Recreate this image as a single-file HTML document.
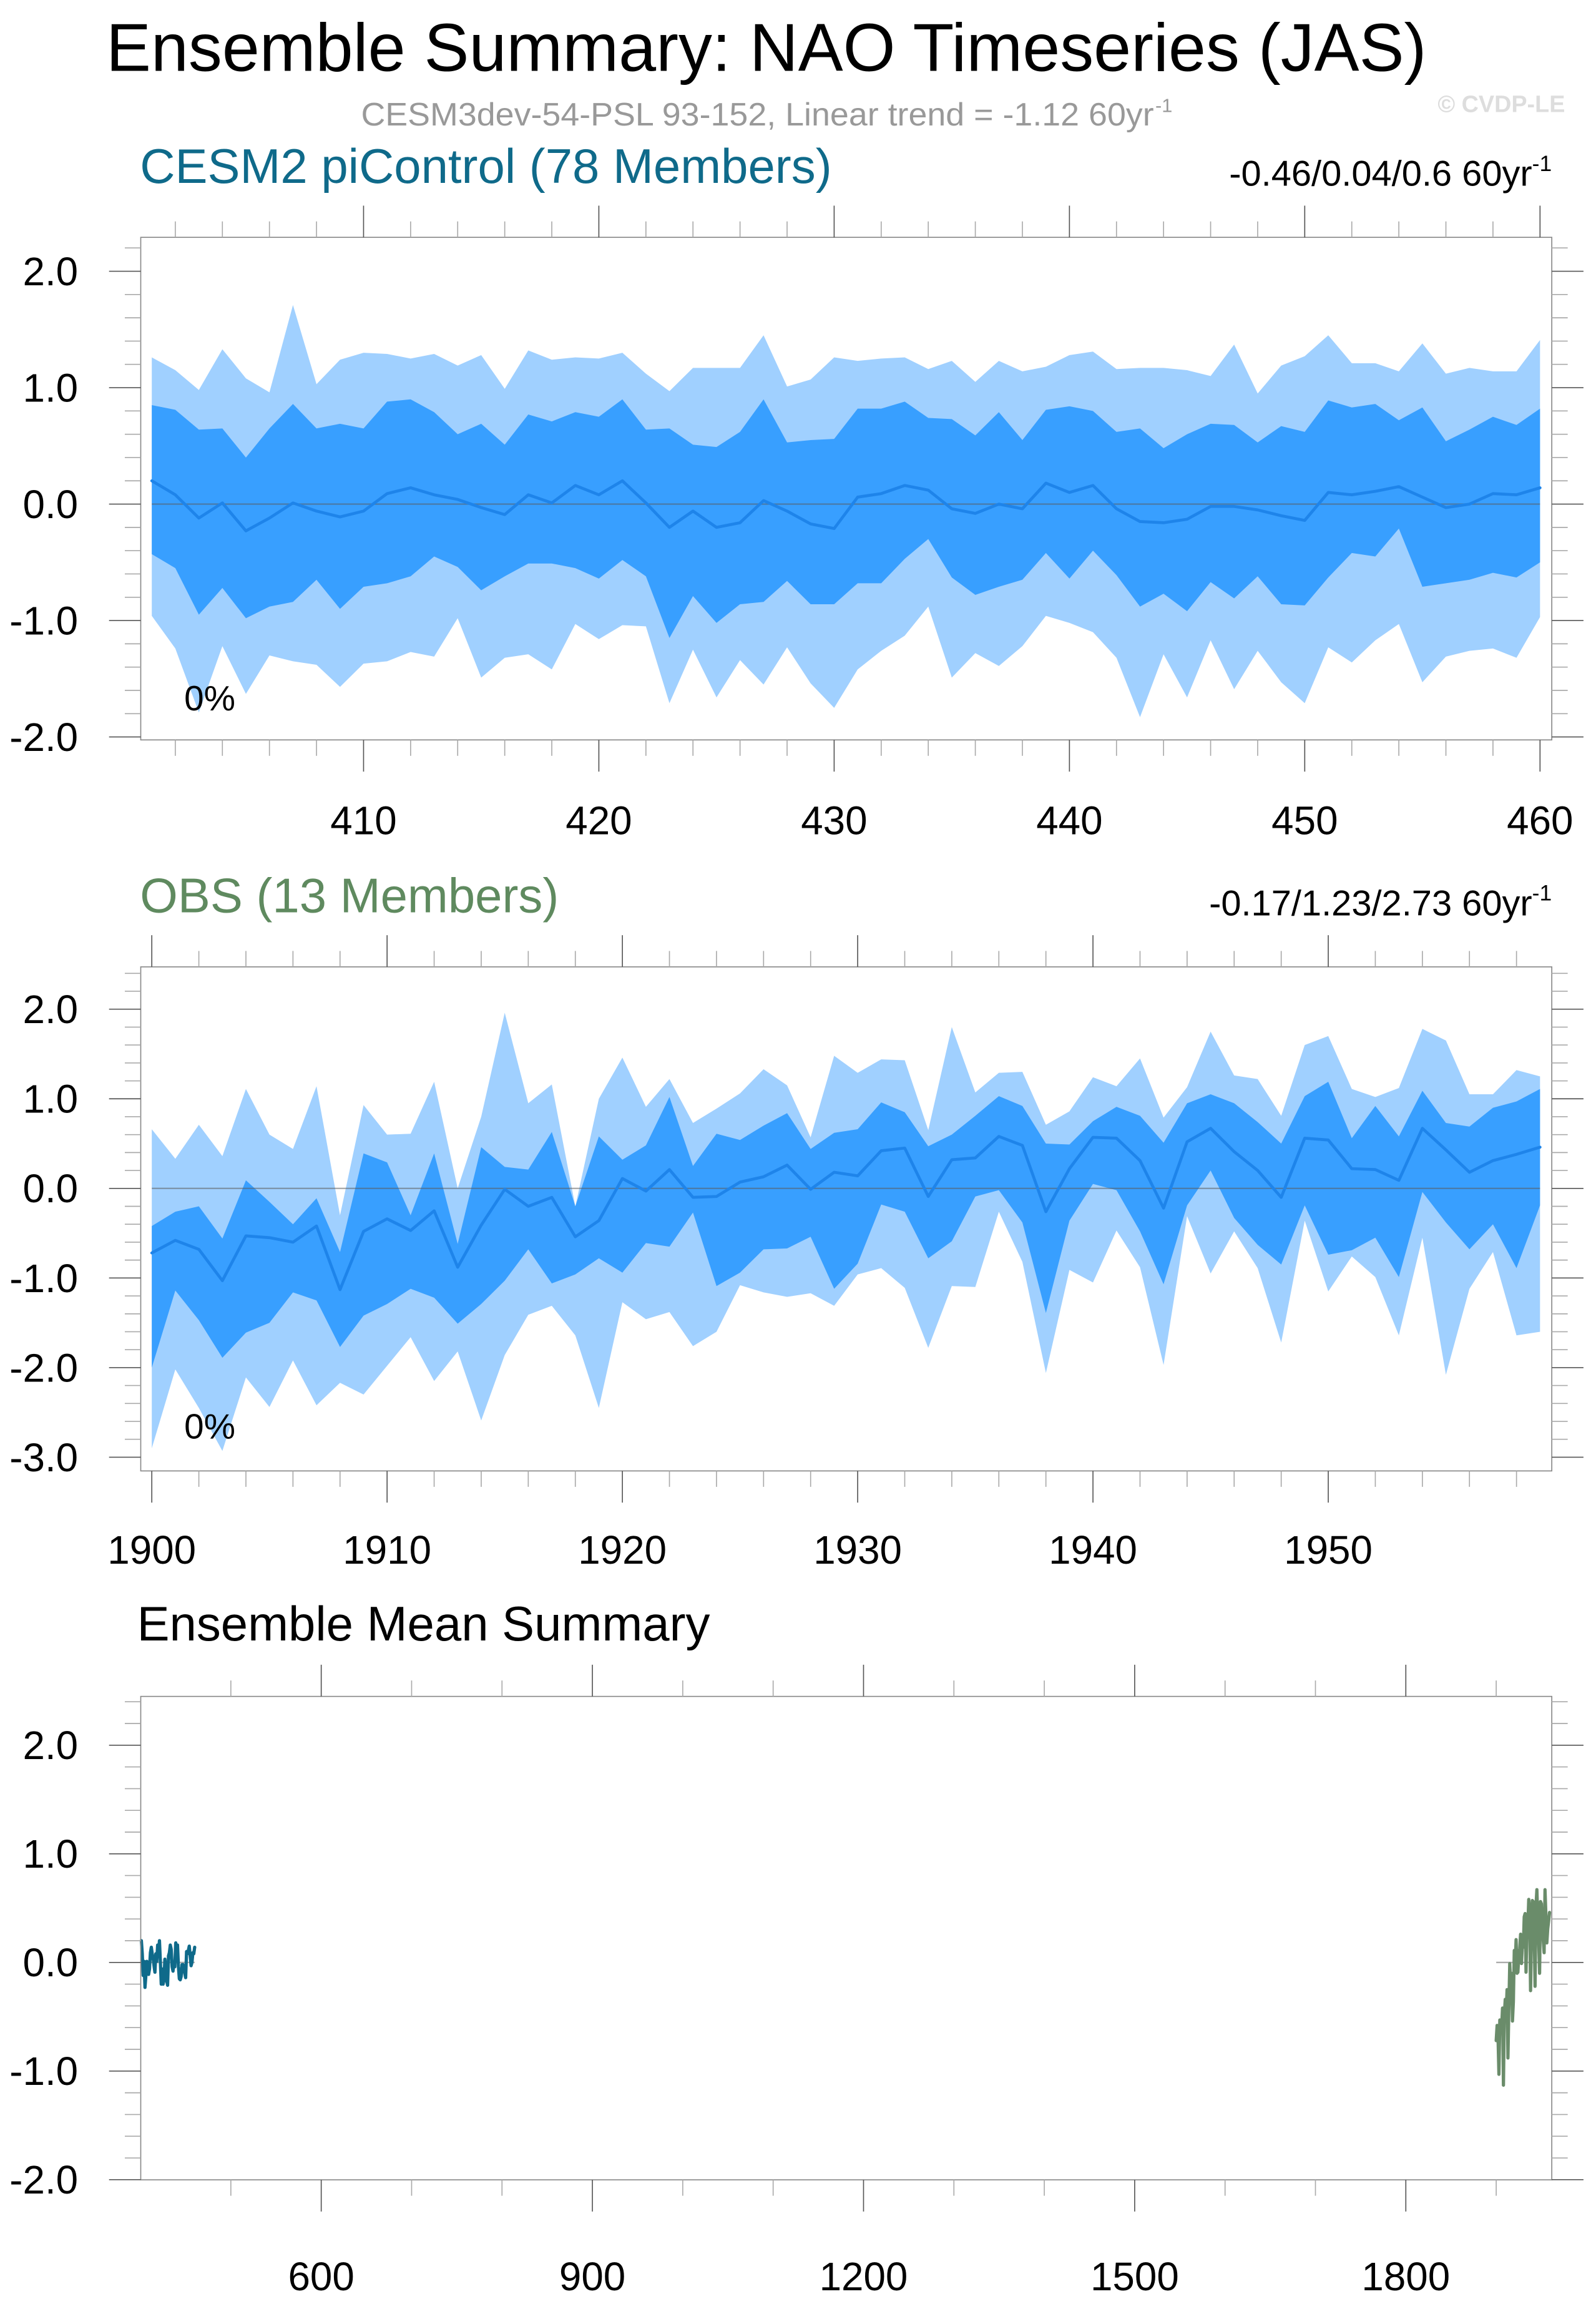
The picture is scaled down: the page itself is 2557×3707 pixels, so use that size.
<!DOCTYPE html>
<html><head><meta charset="utf-8"><style>
html,body{margin:0;padding:0;background:#fff;}
svg{display:block;font-family:"Liberation Sans",Arial,sans-serif;}
</style></head><body>
<svg id="chart" xmlns="http://www.w3.org/2000/svg" width="2557" height="3707" viewBox="0 0 1083 1570">
<rect x="0" y="0" width="1083" height="1570" fill="#fff"/>
<text x="72" y="48" font-size="46" textLength="896" lengthAdjust="spacingAndGlyphs" fill="#000">Ensemble Summary: NAO Timeseries (JAS)</text>
<text x="245" y="85" font-size="22" textLength="538" lengthAdjust="spacingAndGlyphs" fill="#999">CESM3dev-54-PSL 93-152, Linear trend = -1.12 60yr</text>
<text x="784" y="76" font-size="13" fill="#999">-1</text>
<text x="1062" y="76" font-size="16" font-weight="bold" text-anchor="end" fill="#ddd">© CVDP-LE</text>
<text x="95" y="124" font-size="33" fill="#0f6a8a">CESM2 piControl (78 Members)</text>
<text x="1053" y="126" font-size="24.5" text-anchor="end" fill="#000">-0.46/0.04/0.6 60yr<tspan font-size="15" dy="-10">-1</tspan></text>
<text x="95" y="619" font-size="33" fill="#5f8a5f">OBS (13 Members)</text>
<text x="1053" y="621" font-size="24.5" text-anchor="end" fill="#000">-0.17/1.23/2.73 60yr<tspan font-size="15" dy="-10">-1</tspan></text>
<text x="93" y="1113" font-size="33" fill="#000">Ensemble Mean Summary</text>
<g id="layer"></g>
</svg>
<script>
// Panel 1: CESM2 piControl, years 401..460
const cesmYears = [];
for (let y = 401; y <= 460; y++) cesmYears.push(y);
const cesmMax = [1.26,1.15,0.98,1.33,1.08,0.96,1.71,1.03,1.24,1.30,1.29,1.25,1.29,1.19,1.28,0.99,1.32,1.24,1.26,1.25,1.30,1.12,0.97,1.17,1.17,1.17,1.45,1.01,1.07,1.26,1.23,1.25,1.26,1.16,1.23,1.05,1.23,1.14,1.18,1.28,1.31,1.16,1.17,1.17,1.15,1.10,1.37,0.95,1.19,1.27,1.45,1.21,1.21,1.14,1.38,1.12,1.17,1.14,1.14,1.41];
const cesmP90 = [0.85,0.81,0.64,0.65,0.40,0.65,0.86,0.65,0.69,0.65,0.88,0.90,0.79,0.60,0.69,0.51,0.77,0.71,0.79,0.75,0.90,0.64,0.65,0.51,0.49,0.62,0.90,0.53,0.55,0.56,0.82,0.82,0.88,0.74,0.73,0.59,0.79,0.55,0.81,0.84,0.80,0.62,0.65,0.48,0.60,0.69,0.68,0.53,0.67,0.62,0.89,0.83,0.86,0.72,0.83,0.54,0.64,0.75,0.68,0.82];
const cesmMean = [0.20,0.08,-0.12,0.01,-0.23,-0.12,0.01,-0.06,-0.11,-0.06,0.09,0.14,0.08,0.04,-0.03,-0.09,0.08,0.01,0.16,0.08,0.20,0.01,-0.20,-0.06,-0.20,-0.16,0.03,-0.06,-0.17,-0.21,0.06,0.09,0.16,0.12,-0.04,-0.08,0.00,-0.04,0.18,0.10,0.16,-0.04,-0.15,-0.16,-0.13,-0.02,-0.02,-0.05,-0.10,-0.14,0.10,0.08,0.11,0.15,0.06,-0.03,0.00,0.09,0.08,0.14];
const cesmP10 = [-0.43,-0.55,-0.95,-0.72,-0.98,-0.88,-0.84,-0.65,-0.90,-0.71,-0.68,-0.62,-0.45,-0.54,-0.74,-0.62,-0.51,-0.51,-0.55,-0.64,-0.48,-0.62,-1.15,-0.79,-1.02,-0.86,-0.84,-0.66,-0.86,-0.86,-0.68,-0.68,-0.47,-0.30,-0.63,-0.78,-0.71,-0.65,-0.42,-0.64,-0.40,-0.61,-0.88,-0.77,-0.92,-0.67,-0.81,-0.62,-0.86,-0.87,-0.63,-0.42,-0.45,-0.21,-0.71,-0.68,-0.65,-0.59,-0.63,-0.50];
const cesmMin = [-0.96,-1.24,-1.79,-1.22,-1.63,-1.30,-1.35,-1.38,-1.57,-1.37,-1.35,-1.27,-1.31,-0.98,-1.49,-1.32,-1.29,-1.42,-1.03,-1.16,-1.04,-1.05,-1.71,-1.25,-1.66,-1.34,-1.55,-1.23,-1.54,-1.75,-1.42,-1.26,-1.13,-0.88,-1.49,-1.28,-1.39,-1.22,-0.96,-1.02,-1.10,-1.32,-1.83,-1.29,-1.66,-1.17,-1.59,-1.26,-1.53,-1.71,-1.23,-1.36,-1.17,-1.03,-1.53,-1.31,-1.26,-1.24,-1.32,-0.97];

// Panel 2: OBS, years 1900..1959
const obsYears = [];
for (let y = 1900; y <= 1959; y++) obsYears.push(y);
const obsMax = [0.66,0.33,0.71,0.36,1.11,0.60,0.44,1.14,-0.30,0.93,0.60,0.61,1.19,0.00,0.80,1.96,0.95,1.16,-0.20,1.00,1.46,0.91,1.22,0.73,0.89,1.06,1.33,1.15,0.57,1.48,1.29,1.44,1.43,0.65,1.80,1.07,1.29,1.30,0.71,0.86,1.24,1.14,1.45,0.79,1.13,1.75,1.26,1.22,0.81,1.60,1.70,1.11,1.02,1.12,1.78,1.65,1.05,1.05,1.32,1.25];
const obsP90 = [-0.42,-0.26,-0.20,-0.56,0.09,-0.15,-0.40,-0.11,-0.71,0.39,0.29,-0.30,0.39,-0.62,0.46,0.24,0.21,0.63,-0.20,0.58,0.32,0.48,1.02,0.25,0.61,0.54,0.70,0.84,0.44,0.62,0.66,0.96,0.85,0.47,0.60,0.81,1.03,0.92,0.50,0.49,0.75,0.91,0.81,0.51,0.95,1.05,0.95,0.74,0.50,1.03,1.19,0.56,0.92,0.58,1.09,0.73,0.69,0.90,0.97,1.11];
const obsMean = [-0.72,-0.58,-0.68,-1.03,-0.53,-0.55,-0.60,-0.42,-1.13,-0.48,-0.34,-0.47,-0.25,-0.88,-0.41,-0.01,-0.20,-0.10,-0.54,-0.36,0.11,-0.03,0.21,-0.10,-0.09,0.07,0.13,0.26,-0.01,0.18,0.14,0.42,0.45,-0.09,0.32,0.34,0.58,0.48,-0.26,0.22,0.57,0.56,0.31,-0.22,0.52,0.67,0.41,0.20,-0.10,0.56,0.54,0.22,0.21,0.09,0.67,0.43,0.18,0.31,0.38,0.46];
const obsP10 = [-2.00,-1.14,-1.47,-1.89,-1.61,-1.50,-1.16,-1.25,-1.77,-1.42,-1.29,-1.12,-1.22,-1.51,-1.29,-1.03,-0.68,-1.06,-0.96,-0.78,-0.94,-0.61,-0.65,-0.27,-1.09,-0.94,-0.68,-0.67,-0.54,-1.12,-0.84,-0.18,-0.26,-0.78,-0.59,-0.09,-0.02,-0.38,-1.39,-0.36,0.05,-0.02,-0.48,-1.07,-0.19,0.20,-0.33,-0.63,-0.85,-0.19,-0.74,-0.69,-0.55,-0.99,-0.04,-0.38,-0.68,-0.40,-0.89,-0.19];
const obsMin = [-2.90,-2.02,-2.45,-2.93,-2.11,-2.44,-1.92,-2.42,-2.17,-2.30,-1.98,-1.66,-2.15,-1.82,-2.59,-1.86,-1.41,-1.31,-1.64,-2.45,-1.27,-1.46,-1.38,-1.76,-1.60,-1.08,-1.16,-1.21,-1.17,-1.31,-0.96,-0.89,-1.11,-1.78,-1.09,-1.10,-0.26,-0.82,-2.06,-0.91,-1.05,-0.47,-0.88,-1.97,-0.31,-0.95,-0.48,-0.89,-1.72,-0.36,-1.15,-0.76,-0.99,-1.64,-0.55,-2.08,-1.12,-0.71,-1.64,-1.60];

// Tick labels
const p1XLabels = [410,420,430,440,450,460];
const p2XLabels = [1900,1910,1920,1930,1940,1950];
const p3XLabels = [600,900,1200,1500,1800];
const p1YLabels = [2,1,0,-1,-2];
const p2YLabels = [2,1,0,-1,-2,-3];
const p3YLabels = [2,1,0,-1,-2];

const NS = 'http://www.w3.org/2000/svg';
const layer = document.getElementById('layer');
function mk(tag, attrs, parent) {
  const e = document.createElementNS(NS, tag);
  for (const k in attrs) e.setAttribute(k, attrs[k]);
  (parent || layer).appendChild(e);
  return e;
}

function makePanel(cfg) {
  const g = mk('g', {});
  
  
  const xs = v => cfg.left + (v - cfg.x0) / (cfg.x1 - cfg.x0) * (cfg.right - cfg.left);
  const ys = v => cfg.zeroY - v * cfg.unit;
  return { g, xs, ys };
}

function drawAxes(p, cfg) {
  const { g, xs, ys } = p;
  const box = mk('rect', { x: cfg.left, y: cfg.top, width: cfg.right - cfg.left, height: cfg.bottom - cfg.top, fill: 'none', stroke: '#888', 'stroke-width': 0.7 }, g);
  
  
  const MJ = 21.5, MN = 10.8;
  const xStart = Math.ceil(cfg.x0 / cfg.xMinor) * cfg.xMinor;
  for (let v = xStart; v <= cfg.x1 + 1e-6; v += cfg.xMinor) {
    const major = Math.abs(((v - cfg.xMajorBase) % cfg.xMajor + cfg.xMajor) % cfg.xMajor) < 1e-6;
    const len = major ? MJ : MN;
    const col = major ? '#555' : '#aaa';
    const x = xs(v);
    mk('line', { x1: x, x2: x, y1: cfg.bottom, y2: cfg.bottom + len, stroke: col, 'stroke-width': 0.7 }, g);
    mk('line', { x1: x, x2: x, y1: cfg.top, y2: cfg.top - len, stroke: col, 'stroke-width': 0.7 }, g);
  }
  const yStart = Math.ceil(cfg.yMin / 0.2 - 1e-6);
  const yEnd = Math.floor(cfg.yMax / 0.2 + 1e-6);
  for (let i = yStart; i <= yEnd; i++) {
    const v = i * 0.2;
    const major = i % 5 === 0;
    const len = major ? MJ : MN;
    const col = major ? '#555' : '#aaa';
    const y = ys(v);
    mk('line', { x1: cfg.left, x2: cfg.left - len, y1: y, y2: y, stroke: col, 'stroke-width': 0.7 }, g);
    mk('line', { x1: cfg.right, x2: cfg.right + len, y1: y, y2: y, stroke: col, 'stroke-width': 0.7 }, g);
  }
  cfg.xLabels.forEach(v => {
    const t = mk('text', { x: xs(v), y: cfg.xLabelY, 'font-size': 27, 'text-anchor': 'middle', fill: '#000' }, g);
    t.textContent = String(v);
    
    
  });
  cfg.yLabels.forEach(v => {
    const t = mk('text', { x: 53, y: ys(v) + 9.5, 'font-size': 27, 'text-anchor': 'end', fill: '#000' }, g);
    t.textContent = v.toFixed(1);
    
    
  });
}

function band(p, xsArr, hi, lo, color, name) {
  let d = '';
  xsArr.forEach((x, i) => { d += (i ? 'L' : 'M') + p.xs(x).toFixed(2) + ',' + p.ys(hi[i]).toFixed(2); });
  for (let i = xsArr.length - 1; i >= 0; i--) d += 'L' + p.xs(xsArr[i]).toFixed(2) + ',' + p.ys(lo[i]).toFixed(2);
  d += 'Z';
  const e = mk('path', { d: d, fill: color, stroke: 'none' }, p.g);
  
  
}

function line(p, xsArr, vals, color, w, name) {
  const pts = xsArr.map((x, i) => p.xs(x).toFixed(2) + ',' + p.ys(vals[i]).toFixed(2)).join(' ');
  const e = mk('polyline', { points: pts, fill: 'none', stroke: color, 'stroke-width': w, 'stroke-linejoin': 'round', 'stroke-linecap': 'round' }, p.g);
  
  
}

function zeroLine(p, xa, xb, name) {
  const e = mk('line', { x1: p.xs(xa), x2: p.xs(xb), y1: p.ys(0), y2: p.ys(0), stroke: 'rgba(90,90,90,0.5)', 'stroke-width': 1 }, p.g);
  
  
}

function pctLabel(p, x, y) {
  const t = mk('text', { x: x, y: y, 'font-size': 24, fill: '#000' }, p.g);
  t.textContent = '0%';
  
  
}

const c1 = { name: 'cesm-panel', left: 95.5, right: 1053, top: 161, bottom: 502, x0: 400.53, x1: 460.5, zeroY: 342, unit: 79,
  yMin: -2.03, yMax: 2.28, xMinor: 2, xMajor: 10, xMajorBase: 400, xLabels: p1XLabels, xLabelY: 566, yLabels: p1YLabels };
const P1 = makePanel(c1);
band(P1, cesmYears, cesmMax, cesmMin, '#a0d0ff', 'cesm-minmax-band');
band(P1, cesmYears, cesmP90, cesmP10, '#389fff', 'cesm-10-90-band');
zeroLine(P1, 401, 460, 'cesm-zero-line');
line(P1, cesmYears, cesmMean, '#1e84ea', 2, 'cesm-mean-line');
pctLabel(P1, 125, 482);
drawAxes(P1, c1);

const c2 = { name: 'obs-panel', left: 95.5, right: 1053, top: 656, bottom: 998, x0: 1899.53, x1: 1959.5, zeroY: 806.3, unit: 60.8,
  yMin: -3.15, yMax: 2.47, xMinor: 2, xMajor: 10, xMajorBase: 1900, xLabels: p2XLabels, xLabelY: 1061, yLabels: p2YLabels };
const P2 = makePanel(c2);
band(P2, obsYears, obsMax, obsMin, '#a0d0ff', 'obs-minmax-band');
band(P2, obsYears, obsP90, obsP10, '#389fff', 'obs-10-90-band');
zeroLine(P2, 1900, 1959, 'obs-zero-line');
line(P2, obsYears, obsMean, '#1e84ea', 2, 'obs-mean-line');
pctLabel(P2, 125, 976);
drawAxes(P2, c2);

const c3 = { name: 'ensemble-mean-panel', left: 95.5, right: 1053, top: 1151, bottom: 1479, x0: 400.3, x1: 1961.5, zeroY: 1331.5, unit: 73.7,
  yMin: -2.0, yMax: 2.44, xMinor: 100, xMajor: 300, xMajorBase: 600, xLabels: p3XLabels, xLabelY: 1554, yLabels: p3YLabels };
const P3 = makePanel(c3);
zeroLine(P3, 401, 460, 'cesm-mean-zero-line');
zeroLine(P3, 1900, 1959, 'obs-mean-zero-line');
line(P3, cesmYears, cesmMean, '#0f6a8a', 2.2, 'cesm-ensemble-mean-line');
line(P3, obsYears, obsMean, '#6a8c6a', 2.2, 'obs-ensemble-mean-line');
drawAxes(P3, c3);
</script>
</body></html>
